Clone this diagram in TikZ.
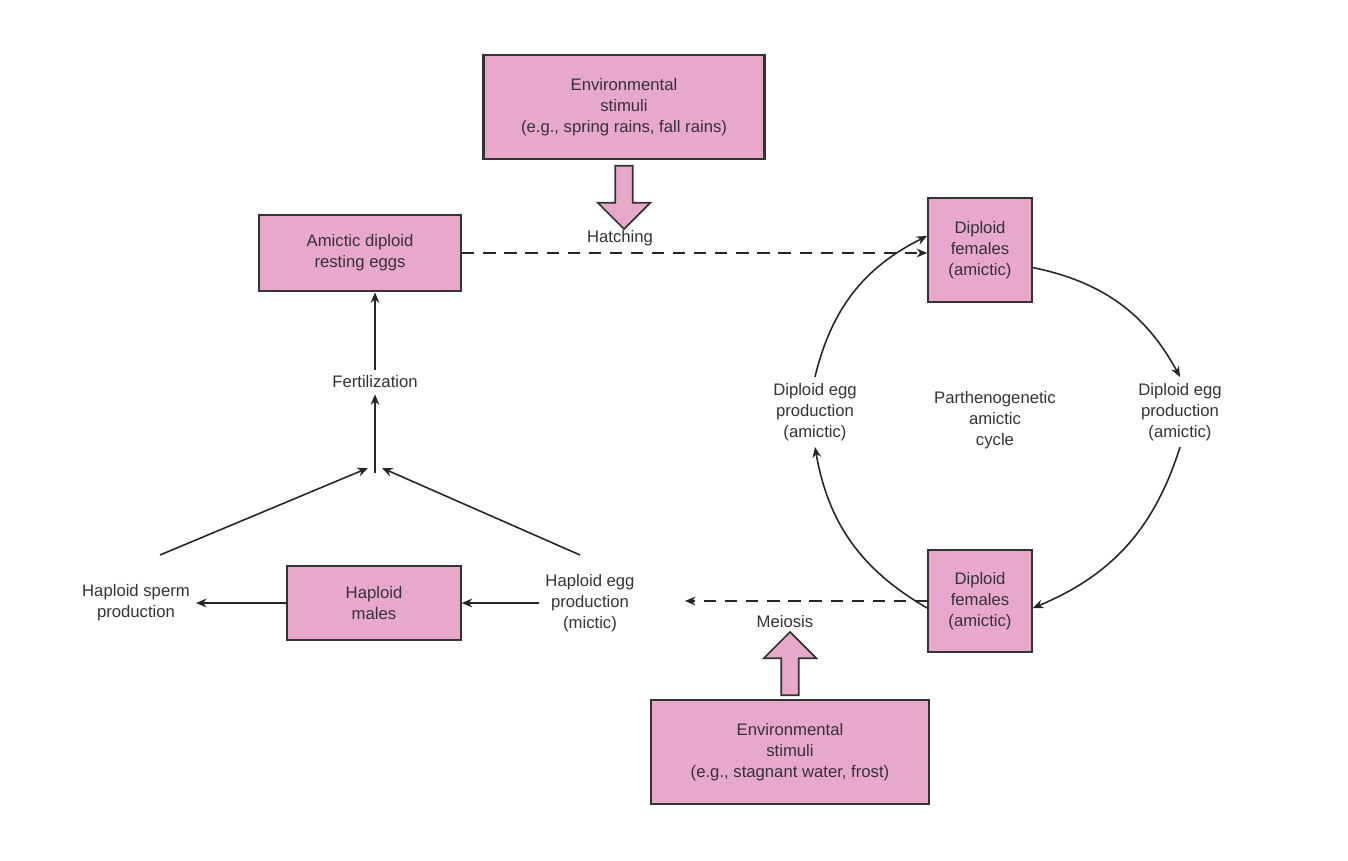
\documentclass[tikz,border=0pt]{standalone}
\usepackage{fontspec}
\setmainfont{Liberation Sans}
\usetikzlibrary{arrows.meta,shapes.arrows}
\definecolor{boxpink}{HTML}{E8A8CB}
\definecolor{inkgray}{HTML}{333333}
\tikzset{
  box/.style = {draw = inkgray, line width = 1.2pt, fill = boxpink, align = center, inner sep = 0pt},
  lbl/.style = {align = center, text = inkgray, font = \fontsize{9.5}{12}\selectfont},
  arr/.style = {-{Stealth[length = 6pt, width = 5pt]}, line width = 0.9pt, draw = black!85},
  dasharr/.style = {arr, dash pattern = on 7pt off 5pt},
  fat/.style = {single arrow, draw = inkgray, fill = boxpink, line width = 1pt, shape border rotate = #1,
    single arrow head extend = 4pt, inner sep = 1.5pt, minimum height = 36pt}
}
\begin{document}
\begin{tikzpicture}[x = 0.02cm, y = -0.02cm]
	\useasboundingbox (0,0) rectangle (1348,861);
	% boxes
	\node[box, minimum width = 282*0.567pt, minimum height = 105*0.567pt, lbl] (EnvTop) at (624,107) {Environmental\\stimuli\\(e.g., spring rains, fall rains)};
	\node[box, minimum width = 203*0.567pt, minimum height = 77*0.567pt, lbl] (Resting) at (360,253) {Amictic diploid\\resting eggs};
	\node[box, minimum width = 104*0.567pt, minimum height = 104*0.567pt, lbl] (FemTop) at (980,250) {Diploid\\females\\(amictic)};
	\node[box, minimum width = 104*0.567pt, minimum height = 102*0.567pt, lbl] (FemBot) at (980,601) {Diploid\\females\\(amictic)};
	\node[box, minimum width = 174*0.567pt, minimum height = 74*0.567pt, lbl] (Males) at (374,603) {Haploid\\males};
	\node[box, minimum width = 279*0.567pt, minimum height = 105*0.567pt, lbl] (EnvBot) at (790,752) {Environmental\\stimuli\\(e.g., stagnant water, frost)};
	% labels
	\node[lbl] (Hatch) at (620,238) {Hatching};
	\node[lbl] (Fert) at (375,382) {Fertilization};
	\node[lbl] (Sperm) at (136,603) {Haploid sperm\\production};
	\node[lbl] (Egg) at (590,603) {Haploid egg\\production\\(mictic)};
	\node[lbl] (Meiosis) at (785,622) {Meiosis};
	\node[lbl] (EggL) at (815,412) {Diploid egg\\production\\(amictic)};
	\node[lbl] (Cycle) at (995,420) {Parthenogenetic\\amictic\\cycle};
	\node[lbl] (EggR) at (1180,412) {Diploid egg\\production\\(amictic)};
	\coordinate (Join) at (375,468);
	\coordinate (DashEnd) at (685,601);
	% fat arrows
	\node[fat = 270, minimum width = 30pt] (FatTop) at (624,193) {};
	\node[fat = 90, minimum width = 30pt] (FatBot) at (790,668) {};
	% connectors
	\draw[dasharr] (Resting.east) -- (FemTop.west |- Resting.east);
	\draw[dasharr] (FemBot.west) -- (DashEnd);
	\draw[arr] ([yshift = -10pt]FemTop.east) to[bend left = 25] (EggR.north);
	\draw[arr] (EggR.south) to[bend left = 25] ([yshift = -4pt]FemBot.east);
	\draw[arr] ([yshift = -4pt]FemBot.west) to[bend left = 25] (EggL.south);
	\draw[arr] (EggL.north) to[bend left = 25] ([yshift = 8pt]FemTop.west);
	\draw[arr] (Fert.north) -- (Fert.north |- Resting.south);
	\draw[arr] ([yshift = -3pt]Join) -- (Fert.south);
	\draw[arr] (160,555) -- ([xshift = -4pt]Join);
	\draw[arr] (580,555) -- ([xshift = 4pt]Join);
	\draw[arr] (Males.west) -- (Sperm.east);
	\draw[arr] (Egg.west) -- (Males.east);
\end{tikzpicture}
\end{document}
